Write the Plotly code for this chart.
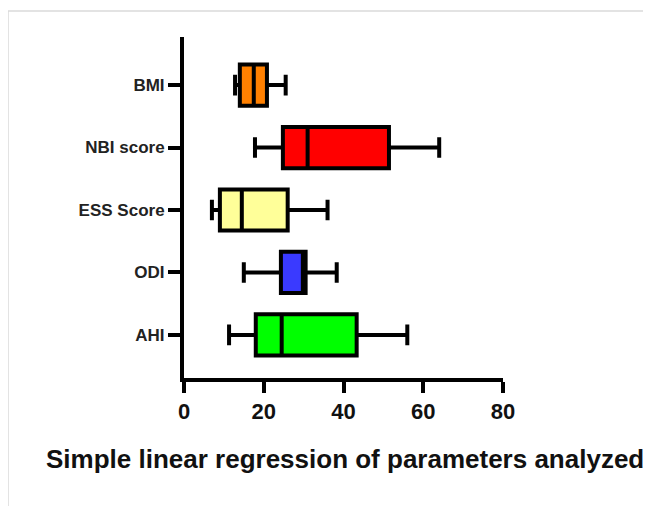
import plotly.graph_objects as go

categories = ["BMI", "NBI score", "ESS Score", "ODI", "AHI"]
lower_whisker = [12.8, 17.8, 7.0, 15.0, 11.3]
q1_values = [14.0, 24.8, 9.0, 24.3, 18.0]
medians = [17.5, 31.0, 14.5, 29.8, 24.5]
q3_values = [20.8, 51.4, 26.0, 30.5, 43.3]
upper_whisker = [25.5, 64.0, 36.0, 38.3, 56.0]
colors = ["#FF8000", "#FF0000", "#FFFF99", "#3A3AFF", "#00FF00"]
x_ticks = [0, 20, 40, 60, 80]

fig = go.Figure()
for i, cat in enumerate(categories):
    fig.add_trace(go.Box(
        y=[cat], orientation="h",
        q1=[q1_values[i]], median=[medians[i]], q3=[q3_values[i]],
        lowerfence=[lower_whisker[i]], upperfence=[upper_whisker[i]],
        fillcolor=colors[i], line=dict(color="black", width=4),
        width=0.66, whiskerwidth=0.5, boxpoints=False, showlegend=False,
        hoverinfo="skip",
    ))

# page body has an 8px margin, so the figure is drawn 8px smaller and offset
OFF = 8
PX0, PX1 = 184, 503   # plot area (page pixels)
PY0, PY1 = 37, 378

font_family = "Liberation Sans, Arial, sans-serif"
fig.update_layout(
    width=651 - OFF, height=506 - OFF,
    margin=dict(l=PX0 - OFF, r=651 - PX1, t=PY0 - OFF, b=506 - PY1),
    paper_bgcolor="white", plot_bgcolor="white",
    font=dict(family=font_family, color="black"),
    xaxis=dict(range=[0, 80], tickvals=x_ticks, showgrid=False, zeroline=False,
               showline=True, linewidth=4, linecolor="black",
               ticks="outside", ticklen=11, tickwidth=4, tickcolor="black",
               tickfont=dict(size=22, weight="bold", family=font_family, color="#111")),
    yaxis=dict(categoryorder="array", categoryarray=categories,
               range=[4.69, -0.77], showgrid=False, zeroline=False,
               showline=True, linewidth=4, linecolor="black",
               ticks="outside", ticklen=12, tickwidth=4, tickcolor="black",
               tickfont=dict(size=17, weight="bold", family=font_family, color="#222")),
    annotations=[dict(text="Simple linear regression of parameters analyzed",
                      xref="paper", yref="paper",
                      x=(345 - PX0) / (PX1 - PX0), y=(PY1 - 459) / (PY1 - PY0),
                      xanchor="center", yanchor="middle", showarrow=False,
                      font=dict(size=26, weight="bold", family=font_family, color="#111"))],
    shapes=[dict(type="rect", xref="paper", yref="paper",
                 x0=(8 - PX0) / (PX1 - PX0), x1=(649 - PX0) / (PX1 - PX0),
                 y0=(PY1 - 520) / (PY1 - PY0), y1=(PY1 - 11) / (PY1 - PY0),
                 line=dict(color="#DADADA", width=1.5), fillcolor="rgba(0,0,0,0)", layer="below")],
)

fig.write_html("out.html")
